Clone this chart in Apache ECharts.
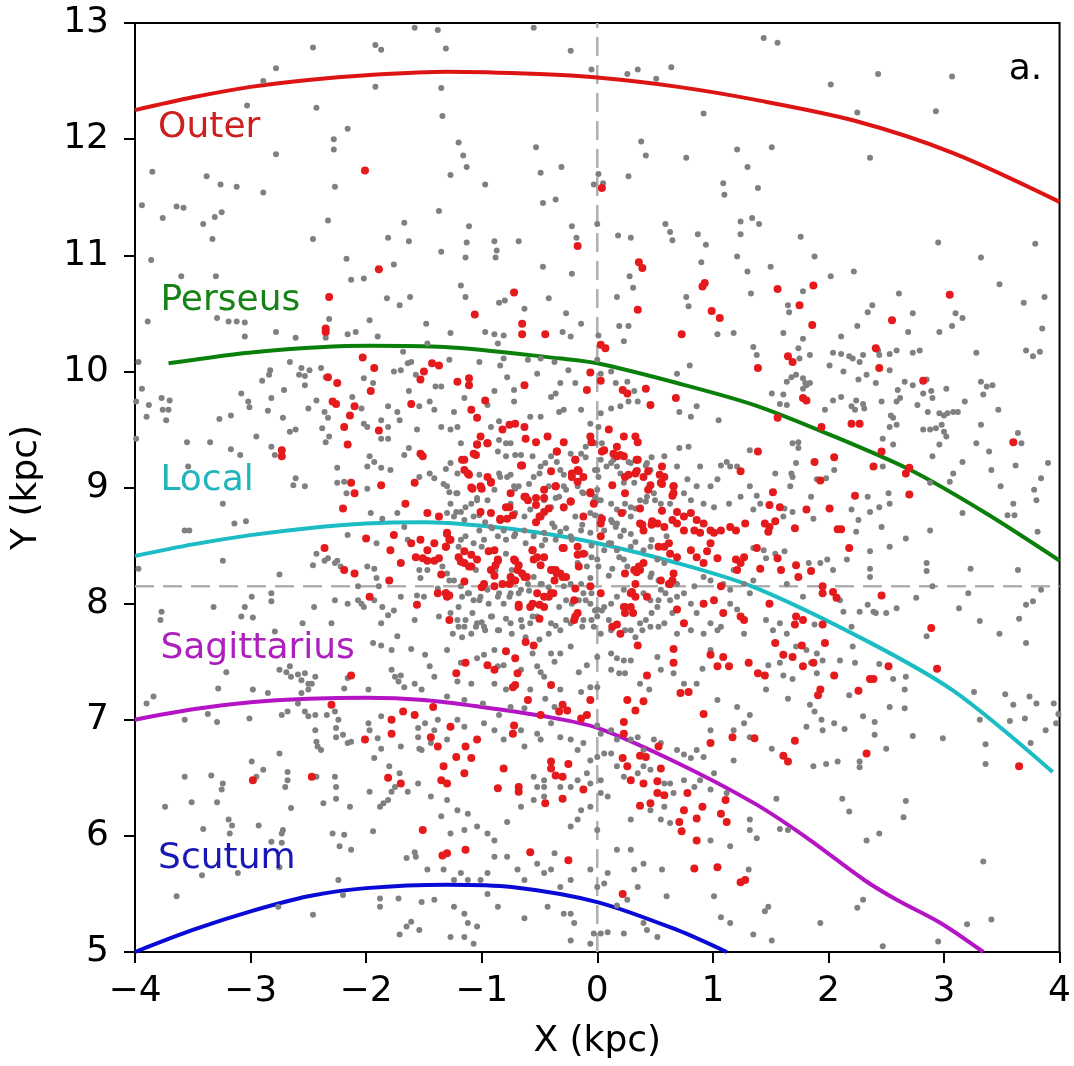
<!DOCTYPE html>
<html>
<head>
<meta charset="utf-8">
<script src="https://cdn.jsdelivr.net/npm/echarts@6/dist/echarts.min.js"></script>
<style>
  html, body { margin: 0; padding: 0; background: #fff; }
  #main { width: 1074px; height: 1066px; }
</style>
</head>
<body>
<div id="main"></div>
<script>
// spiral arm traces (kpc)
const outerArm = [[-4,12.25],[-3.5,12.36],[-3,12.45],[-2.5,12.51],[-2,12.55],[-1.3,12.58],[-0.5,12.56],[0,12.53],[0.7,12.45],[1.36,12.34],[2.22,12.16],[3.08,11.88],[4.0,11.46]]
const perseusArm = [[-3.71,10.07],[-2.93,10.17],[-1.98,10.22],[-1.32,10.21],[-0.31,10.11],[0,10.07],[0.69,9.90],[1.36,9.71],[2.0,9.46],[2.71,9.15],[3.36,8.78],[4.0,8.37]]
const localArm = [[-4,8.41],[-3.5,8.51],[-3,8.59],[-2.5,8.65],[-2,8.69],[-1.5,8.70],[-1,8.67],[-0.5,8.61],[0,8.52],[0.69,8.35],[1.36,8.14],[2.31,7.69],[3.08,7.25],[3.94,6.55]]
const sagittariusArm = [[-4,7.0],[-3.5,7.09],[-3,7.15],[-2.5,7.18],[-2,7.19],[-1.5,7.17],[-1,7.11],[-0.46,7.03],[0,6.93],[0.69,6.63],[1.36,6.28],[1.79,6.0],[2.31,5.62],[2.59,5.45],[2.97,5.25],[3.34,5.0]]
const scutumArm = [[-4,5.0],[-3.5,5.19],[-3,5.35],[-2.5,5.48],[-2,5.55],[-1.3,5.58],[-0.74,5.56],[0,5.43],[0.69,5.19],[1.12,5.0]]

const armNames = ['Outer', 'Perseus', 'Local', 'Sagittarius', 'Scutum']
const armLines = [outerArm, perseusArm, localArm, sagittariusArm, scutumArm]
const armColors = ['#dd1414', '#0a800a', '#1cbcc4', '#b414c4', '#0a0ad6']
const labelColors = ['#cc2020', '#178317', '#22b4bc', '#ac20bc', '#1818b4']
const labelX = [-3.80, -3.78, -3.78, -3.78, -3.80]
const labelY = [12.10, 10.61, 9.06, 7.61, 5.80]

const sunX = 0
const sunY = 8.15

const xTicks = [-4, -3, -2, -1, 0, 1, 2, 3, 4]
const yTicks = [5, 6, 7, 8, 9, 10, 11, 12, 13]

const grayPoints = [
[-2.46,12.79],[-1.92,12.81],[-1.87,12.77],[-2.78,12.61],[-2.89,12.50],[-1.92,12.45],[-1.35,12.44],[-3.03,12.29],[-2.43,12.27],[-1.34,12.20],[-2.16,12.09],[-2.28,12.00],[-2.28,11.91],[-2.78,11.87],[-3.85,11.72],[-3.38,11.68],[-3.26,11.61],[-3.12,11.59],[-2.89,11.54],[-2.27,11.59],[-3.94,11.43],[-3.64,11.42],[-3.58,11.41],[-3.76,11.32],[-3.25,11.37],[-3.31,11.33],[-3.41,11.27],[-2.33,11.30],[-1.67,11.28],[-1.37,11.38],[-3.33,11.14],[-2.46,11.14],[-1.81,11.15],[-1.63,11.12],[-1.35,11.03],[-3.86,10.96],[-2.17,10.97],[-1.76,10.92],[-3.60,10.82],[-3.30,10.82],[-2.13,10.79],[-2.02,10.80],[-1.82,10.63],[-1.71,10.57],[-1.62,10.64],[-3.89,10.43],[-3.29,10.46],[-3.19,10.43],[-3.12,10.43],[-3.05,10.42],[-2.32,10.45],[-1.97,10.44],[-1.48,10.41],[-1.58,12.96],[-1.38,12.94],
[-0.55,12.96],[-1.31,12.78],[-0.23,12.76],[-0.05,12.60],[0.26,12.56],[0.35,12.60],[0.51,12.52],[0.64,12.62],[0.92,12.22],[-1.20,11.97],[-1.16,11.86],[-1.13,11.76],[-1.27,11.69],[-0.53,11.93],[0.38,11.98],[0.42,11.86],[0.77,11.84],[1.21,11.91],[1.30,11.76],[-0.49,11.71],[-0.31,11.76],[-0.97,11.61],[0.01,11.70],[-0.03,11.61],[0.05,11.62],[0.27,11.68],[1.09,11.62],[1.10,11.52],[-0.47,11.45],[-0.36,11.48],[-1.11,11.25],[-1.13,11.11],[-0.89,11.12],[-0.87,11.04],[-0.88,10.98],[-1.14,10.98],[-0.68,11.12],[-0.22,11.25],[-0.18,11.15],[0.00,11.27],[0.18,11.17],[0.29,11.15],[0.59,11.27],[0.63,11.20],[0.65,11.13],[0.87,11.18],[0.94,11.09],[1.24,11.29],[1.24,11.18],[1.34,11.32],[1.21,10.99],[1.30,10.86],[1.33,10.67],[0.90,10.94],[-0.47,10.90],[-0.22,10.84],[0.28,10.82],[0.31,10.72],[0.17,10.64],[-1.18,10.74],[-1.14,10.64],[-0.85,10.59],[-0.80,10.61],[-0.63,10.54],[-0.42,10.63],[-0.27,10.50],[-0.14,10.41],[0.19,10.39],[0.27,10.39],[0.77,10.64],[0.79,10.56],
[1.44,12.87],[1.56,12.83],[2.02,12.47],[2.43,12.56],[3.07,12.54],[2.25,12.23],[2.93,12.24],[1.51,11.93],[2.36,11.84],[1.39,11.58],[1.40,11.27],[1.76,11.16],[1.88,10.99],[2.95,11.11],[3.79,11.10],[1.50,10.90],[2.02,10.82],[2.22,10.86],[3.32,10.98],[3.48,10.75],[1.78,10.69],[1.65,10.57],[1.66,10.51],[2.61,10.67],[2.38,10.57],[2.34,10.51],[2.73,10.50],[3.10,10.50],[3.16,10.46],[3.69,10.59],[3.87,10.64],[2.25,10.39],[3.07,10.39],[3.85,10.37],
[-3.05,10.30],[-2.78,10.34],[-2.61,10.29],[-2.35,10.29],[-2.16,10.32],[-2.09,10.34],[-1.90,10.30],[-1.47,10.24],[-3.97,10.08],[-3.94,9.85],[-3.99,9.74],[-3.88,9.71],[-3.90,9.61],[-3.77,9.77],[-3.70,9.75],[-3.76,9.67],[-3.71,9.67],[-3.73,9.58],[-3.99,9.42],[-3.55,9.39],[-3.35,9.39],[-3.17,9.33],[-3.09,9.28],[-2.95,9.44],[-3.27,9.59],[-3.17,9.62],[-3.08,9.81],[-3.02,9.74],[-3.01,9.69],[-2.90,9.92],[-2.83,10.01],[-2.84,9.97],[-2.82,9.77],[-2.85,9.66],[-2.66,10.08],[-2.71,9.84],[-2.72,9.60],[-2.66,9.48],[-2.61,9.50],[-2.82,9.35],[-2.79,9.28],[-2.56,10.03],[-2.58,9.97],[-2.53,9.96],[-2.49,10.01],[-2.53,9.88],[-2.50,9.68],[-2.43,9.75],[-2.39,10.03],[-2.35,9.95],[-2.36,9.65],[-2.33,9.60],[-2.38,9.51],[-2.32,9.44],[-2.35,9.39],[-2.25,9.17],[-2.19,9.05],[-2.25,9.04],[-2.17,8.95],[-1.99,8.99],[-1.93,9.22],[-1.87,9.17],[-1.79,9.15],[-1.99,9.18],[-1.97,9.27],[-2.12,9.78],[-2.02,9.94],[-1.94,9.90],[-2.04,9.68],[-2.02,9.55],[-1.99,9.52],[-1.87,9.58],[-1.81,9.52],[-1.73,9.65],[-1.71,9.58],[-1.81,9.70],[-1.68,10.17],[-1.76,10.00],[-1.70,10.01],[-1.64,10.07],[-1.61,10.08],[-1.57,9.97],[-1.54,9.70],[-1.63,9.83],[-1.56,9.50],[-1.67,9.28],[-1.63,9.34],[-1.87,9.42],[-1.81,9.42],[-1.54,9.09],[-1.45,9.12],[-1.41,9.08],[-1.35,9.87],[-1.40,9.87],[-1.45,9.74],[-1.41,9.67],[-1.35,9.52],[-2.61,9.08],[-2.63,9.02],[-2.53,9.01],[-3.14,8.69],[-3.04,8.71],[-3.54,9.18],[-3.24,8.86],[-3.57,8.63],[-3.53,8.63],[-1.96,8.78],[-1.73,8.78],[-1.67,8.66],[-1.64,8.55],[-1.86,8.73],[-2.16,8.59],[-1.91,8.52],[-1.54,8.29],[-1.47,8.29],[-1.53,8.22],[-1.56,8.07],[-1.50,8.06],[-3.24,8.37],[-3.97,8.30],[-2.75,8.25],[-2.43,8.43],[-2.36,8.37],[-2.33,8.39],[-2.27,8.35],[-2.25,8.37],[-2.22,8.32],[-2.46,8.33],[-1.99,8.32],[-1.93,8.30],[-1.91,8.22],[-2.07,8.15],[-1.89,8.15],[-2.27,8.03],[-2.16,8.00],[-2.07,8.03],[-2.02,7.97],[-2.04,8.00],[-1.93,8.03],[-1.86,7.97],[-1.81,7.90],[-1.76,7.94],[-1.87,7.83],[-1.70,8.06],[-2.99,8.06],[-2.82,8.09],[-2.82,8.02],[-3.05,7.97],[-3.32,7.97],[-3.77,7.93],[-3.78,7.86],[-3.08,7.89],[-2.98,7.88],[-2.55,7.83],[-2.30,7.83],[-2.45,7.97],[-2.79,7.76],[-1.73,7.72],[-1.37,7.89],[-1.38,8.13],[-1.58,7.86],
[-1.27,10.33],[-0.97,10.34],[-0.89,10.32],[-0.81,10.31],[-0.30,10.34],[-0.23,10.30],[0.01,10.31],[0.23,10.26],[1.04,10.32],[1.18,10.33],[-1.28,10.10],[-1.02,10.08],[-0.86,10.24],[-0.81,10.11],[-0.84,10.05],[-0.78,9.95],[-0.72,9.84],[-0.60,10.10],[-0.49,10.11],[-0.37,10.08],[-0.25,10.01],[-0.32,9.90],[-0.36,9.81],[-0.40,9.78],[-0.52,9.98],[-0.19,9.90],[0.00,10.10],[0.03,9.98],[0.12,10.00],[0.16,9.90],[0.26,9.91],[0.32,9.83],[0.35,9.74],[0.27,9.74],[0.20,9.70],[0.12,9.68],[0.03,9.64],[-0.14,9.67],[-0.29,9.67],[-0.33,9.65],[-0.49,9.61],[-0.58,9.61],[-0.72,9.74],[-0.89,9.83],[-0.95,9.71],[-1.15,9.77],[-1.24,9.65],[-1.21,9.52],[-1.27,9.50],[-0.92,9.52],[-0.85,9.57],[0.71,9.65],[0.81,9.61],[0.86,9.70],[1.05,9.58],[0.80,10.05],[0.69,9.98],
[-0.06,9.55],[0.01,9.52],[0.04,9.38],[-0.02,9.38],[-0.10,9.35],[0.03,9.24],[0.12,9.21],[0.17,9.18],[0.29,9.21],[0.35,9.15],[0.43,9.21],[0.46,9.15],[0.58,9.27],[0.69,9.18],[0.71,9.34],[0.79,9.35],[0.89,9.18],[1.07,9.19],[1.12,9.22],[1.15,9.18],[1.21,9.18],[1.32,9.32],[1.04,9.07],[0.98,9.01],[0.86,9.01],[0.78,9.07],[0.75,8.95],[0.81,8.89],[0.92,8.86],[1.01,8.83],[1.14,8.86],[1.24,8.92],[1.32,9.01],[-1.27,9.21],[-1.21,9.12],[-1.30,9.01],[-1.21,8.95],[-1.27,8.86],[-1.18,8.79],[-1.09,8.86],[-1.04,8.89],[-0.89,8.98],[-0.84,9.09],[-0.78,9.09],[-0.72,9.01],[-0.68,9.01],[-0.55,9.09],[-0.49,9.18],[-0.56,9.27],[-0.71,9.28],[-0.79,9.27],[-0.85,9.41],[-0.75,9.38],[-0.40,9.27],[-0.35,9.22],[-0.32,9.15],[-0.23,9.29],[-0.14,9.29],
[0.00,9.15],[0.01,9.09],[0.00,8.98],[-0.02,8.92],[0.03,8.89],[0.12,8.86],[0.17,8.81],[0.23,8.79],[0.29,8.83],[0.37,8.89],[0.43,8.92],[0.49,8.95],[0.55,8.86],[0.63,8.86],[0.32,9.04],[0.23,9.04],[-0.17,9.01],[-0.12,8.95],[-0.29,9.01],[-0.33,8.92],[-0.40,8.83],[-0.46,8.89],[-0.58,8.81],[-0.63,8.75],[-0.75,8.86],[-0.95,8.89],[-1.07,8.75],[-1.15,8.72],[-1.24,8.75],[-1.30,8.78],[-0.06,8.78],[0.03,8.75],[0.12,8.72],[0.17,8.69],[0.23,8.63],[0.29,8.75],[0.06,8.63],[-0.06,8.61],[-0.14,8.63],[-0.23,8.58],[-0.32,8.62],[-0.37,8.66],[-0.46,8.61],[-0.55,8.58],[-0.63,8.63],[-0.72,8.58],[-0.81,8.63],[-0.86,8.58],[-0.98,8.55],[-1.07,8.52],[-1.18,8.55],[-0.92,8.66],
[-0.17,8.35],[-0.09,8.32],[0.00,8.38],[0.06,8.46],[0.12,8.52],[0.17,8.46],[0.23,8.38],[0.29,8.49],[0.46,8.49],[0.52,8.38],[0.58,8.35],[0.46,8.23],[0.55,8.12],[0.69,8.17],[0.75,8.09],[0.84,8.15],[0.92,8.23],[0.98,8.20],[1.09,8.17],[1.15,8.12],[1.18,8.29],[1.27,8.17],[1.32,8.09],[-1.30,8.26],[-1.24,8.20],[-1.18,8.15],[-1.12,8.09],[-1.07,8.03],[-1.01,8.06],[-0.95,8.12],[-0.86,8.06],[-0.81,8.00],[-0.75,8.09],[-0.66,8.12],[-0.60,8.17],[-0.55,8.23],[-0.49,8.17],[-0.29,8.15],[-0.23,8.17],[-0.14,8.17],[-0.12,8.09],[-0.06,8.00],[0.00,7.95],[0.06,7.97],[0.12,8.00],[0.17,8.06],[0.23,8.12],[0.40,8.09],[0.46,8.03],[0.52,7.97],[0.63,8.03],[0.69,8.06],[0.81,8.00],[0.86,7.92],[0.98,7.83],[1.07,7.80],[1.15,8.00],[1.21,7.95],
[-1.27,7.92],[-1.21,7.86],[-1.15,7.80],[-1.09,7.74],[-1.04,7.83],[-0.98,7.80],[-0.92,7.89],[-0.86,7.77],[-0.75,7.83],[-0.66,7.86],[-0.58,7.83],[-0.52,7.89],[-0.40,7.83],[-0.32,7.77],[-0.23,7.83],[-0.12,7.86],[-0.03,7.80],[0.00,7.89],[0.03,7.74],[0.12,7.77],[0.29,7.77],[0.37,7.83],[0.46,7.80],[0.58,7.83],[0.69,7.74],[0.81,7.77],[0.92,7.74],[1.04,7.77],[1.27,7.74],
[-1.18,9.38],[-0.86,9.31],[-0.79,9.38],[-0.66,9.28],[-0.45,9.21],[-1.31,9.16],[-1.33,9.03],[-1.22,8.95],[-1.28,8.96],[-1.14,8.83],[-1.22,8.79],[-1.04,8.91],[-1.02,9.11],[-0.85,9.12],[-0.75,9.11],[-0.71,8.99],[-0.59,9.03],[-0.50,9.12],[-0.42,9.01],[-0.29,9.11],[-0.27,8.98],[-0.36,8.91],[-0.29,8.82],[-0.13,8.96],[-0.03,8.88],[0.01,8.89],[-0.02,8.76],[-0.13,8.68],[-0.10,9.26],[-0.02,9.15],[0.08,9.18],[0.14,9.24],[0.20,9.12],[0.27,9.22],[0.42,9.19],[0.47,9.26],[0.42,8.88],[0.50,8.89],[0.33,8.82],[0.24,8.86],[0.13,8.70],[0.16,8.66],[0.20,8.58],[0.10,8.52],[0.29,8.60],[0.33,8.53],[0.60,8.58],[0.47,8.55],[0.40,8.46],[0.19,8.40],[0.26,8.32],[0.13,8.30],[0.10,8.24],[-0.05,8.40],[-0.10,8.43],[0.01,8.32],[-0.06,8.22],[-0.05,8.09],[-0.10,8.03],[-0.16,8.03],[-0.22,8.00],[-0.02,7.94],[0.04,7.94],[0.10,7.86],[-0.05,7.86],[-0.13,7.80],[-0.27,7.86],[-0.36,7.81],[0.47,8.26],[0.53,8.20],[0.59,8.09],[0.53,8.03],[0.47,7.92],[0.42,7.86],[0.53,7.80],[0.65,7.92],[0.39,7.77],[0.24,7.77],[0.33,7.71],
[-0.79,8.55],[-0.71,8.60],[-1.02,8.63],[-1.14,8.58],[-1.20,8.49],[-1.34,8.32],[-1.28,8.20],[-1.11,8.09],[-1.17,8.06],[-1.20,7.97],[-1.02,8.03],[-0.94,8.00],[-0.85,8.09],[-0.76,8.06],[-0.68,8.09],[-0.59,8.11],[-0.48,8.17],[-0.42,8.14],[-1.08,7.92],[-1.14,7.86],[-1.00,7.84],[-0.91,7.89],[-0.79,7.87],[-1.05,7.80],[-0.97,7.77],[-0.85,7.77],[-0.74,7.74],[-0.65,7.80],[-0.56,7.89],[-1.20,7.80],[-1.25,7.74],[-1.17,7.71],[-0.50,7.69],[-0.42,7.74],[-0.62,7.71],[-0.33,7.97],[-0.27,8.03],[-1.02,8.76],[-0.97,8.70],[-0.91,8.65],[-0.39,8.69],[-0.27,8.65],[-0.45,8.55],[-0.62,8.52],[-0.79,8.43],[-1.00,8.49],[-1.05,8.29],[-0.88,8.29],[-0.74,8.29],[-0.48,8.50],[-0.36,8.55],[-0.22,8.55],[-0.05,8.50],[-0.19,8.75],[-0.71,8.78],
[1.61,10.33],[1.78,10.28],[2.11,10.30],[2.69,10.34],[2.96,10.34],[1.35,10.21],[1.38,10.14],[1.74,10.20],[1.84,10.14],[1.75,10.11],[2.01,10.05],[2.04,10.16],[2.11,10.15],[2.18,10.13],[2.21,10.11],[2.30,10.14],[2.27,10.08],[2.43,10.18],[2.44,10.14],[2.53,10.15],[2.59,10.18],[2.73,10.16],[2.79,10.18],[3.28,10.16],[3.71,10.18],[3.77,10.13],[3.83,10.17],[1.64,9.91],[1.68,9.95],[1.72,9.97],[1.78,9.94],[1.80,9.90],[1.81,9.88],[1.84,9.90],[1.78,9.85],[2.13,10.00],[2.26,9.93],[2.33,9.97],[2.41,9.90],[2.53,10.01],[2.60,9.84],[2.66,9.91],[2.73,9.88],[2.82,9.81],[2.85,9.93],[2.89,9.83],[3.02,9.85],[3.32,9.91],[3.37,9.87],[3.42,9.88],[3.34,9.80],[1.51,9.81],[1.61,9.80],[1.64,9.71],[1.58,9.72],[1.97,9.67],[2.04,9.75],[2.11,9.78],[2.20,9.70],[2.23,9.67],[2.24,9.75],[2.30,9.72],[2.31,9.68],[2.46,9.74],[2.54,9.62],[2.56,9.60],[2.62,9.77],[2.59,9.74],[2.77,9.71],[2.86,9.65],[2.90,9.77],[2.96,9.64],[3.00,9.62],[3.03,9.64],[3.08,9.65],[3.12,9.65],[3.18,9.74],[3.47,9.67],
[2.53,9.52],[2.59,9.54],[2.82,9.50],[2.88,9.50],[2.93,9.51],[2.98,9.54],[3.00,9.48],[3.02,9.44],[2.47,9.42],[2.56,9.37],[2.96,9.37],[2.90,9.27],[3.32,9.54],[3.28,9.38],[3.39,9.31],[3.64,9.47],[3.67,9.38],[1.69,9.38],[1.74,9.39],[1.74,9.34],[1.72,9.21],[1.54,9.12],[1.68,9.12],[1.69,9.09],[1.67,9.01],[1.98,9.08],[1.90,9.07],[2.05,9.15],[2.47,9.18],[3.16,9.22],[3.08,9.12],[3.05,9.05],[2.88,9.04],[3.41,9.15],[3.62,9.19],[3.90,9.21],[3.84,9.08],[3.49,9.01],[3.78,8.98],[3.80,8.89],[3.60,8.86],[3.61,8.76],[3.55,8.76],[1.38,8.93],[1.41,8.86],[1.35,8.81],[1.61,8.75],[1.62,8.82],[1.69,8.79],[1.85,8.92],[1.87,8.73],[2.20,8.81],[2.26,8.72],[2.34,8.92],[2.36,8.79],[2.44,8.83],[2.52,8.95],[2.53,8.86],[2.46,8.66],[2.24,8.62],[2.67,8.56],[2.88,8.63],[3.16,8.78],[3.81,8.62],
[1.35,8.48],[1.44,8.46],[1.54,8.43],[1.62,8.45],[1.46,8.39],[1.93,8.35],[1.83,8.35],[1.99,8.38],[2.04,8.29],[2.16,8.38],[2.36,8.45],[2.53,8.49],[2.36,8.30],[2.36,8.23],[2.85,8.35],[2.85,8.28],[3.23,8.30],[3.64,8.29],[1.35,8.20],[1.64,8.17],[1.78,8.06],[2.10,8.03],[2.13,7.93],[2.27,7.93],[2.34,7.99],[2.39,7.93],[2.41,7.92],[2.50,7.92],[2.59,7.96],[2.76,8.05],[2.90,8.15],[3.21,8.09],[3.13,7.96],[3.31,7.85],[3.48,7.74],[3.71,7.99],[3.77,8.02],[3.65,7.87],[3.84,8.12],[1.46,7.86],[1.52,7.77],[1.58,7.83],[1.64,7.74],[1.88,7.82],[2.20,7.80],[2.85,7.72],
[-3.90,7.14],[-3.84,7.20],[-3.57,7.00],[-3.37,7.05],[-3.29,6.98],[-3.28,7.27],[-3.21,7.41],[-3.01,7.01],[-2.98,7.26],[-2.85,7.23],[-2.75,7.43],[-2.69,7.41],[-2.66,7.46],[-2.65,7.37],[-2.73,7.04],[-2.68,7.07],[-2.59,7.39],[-2.56,7.34],[-2.53,7.40],[-2.50,7.31],[-2.44,7.37],[-2.47,7.31],[-2.50,7.26],[-2.56,7.23],[-2.59,7.14],[-2.53,7.07],[-2.50,7.03],[-2.44,7.04],[-2.34,7.04],[-2.27,7.07],[-2.24,7.00],[-2.26,6.93],[-2.20,6.87],[-2.26,6.85],[-2.16,6.80],[-2.13,6.81],[-2.44,6.91],[-2.43,6.81],[-2.42,6.77],[-2.39,6.74],[-2.19,7.27],[-2.16,7.36],[-1.98,7.26],[-1.94,7.66],[-1.87,7.64],[-1.78,7.60],[-1.61,7.61],[-1.49,7.56],[-1.45,7.46],[-1.41,7.37],[-1.78,7.43],[-1.75,7.37],[-1.72,7.33],[-1.70,7.38],[-1.67,7.28],[-1.58,7.31],[-1.52,7.26],[-1.49,6.97],[-1.55,6.93],[-1.55,6.85],[-1.52,6.74],[-1.44,6.80],[-1.41,6.91],[-1.38,7.00],[-1.87,7.03],[-1.98,6.97],[-1.97,6.91],[-1.90,6.84],[-1.87,6.75],[-1.93,6.67],[-1.70,6.77],[-1.54,6.75],
[-2.75,6.71],[-2.99,6.64],[-2.89,6.57],[-2.95,6.51],[-2.68,6.55],[-2.68,6.48],[-2.70,6.42],[-2.43,6.51],[-2.27,6.51],[-2.26,6.42],[-2.37,6.28],[-2.26,6.32],[-2.14,6.25],[-1.97,6.38],[-1.88,6.25],[-1.85,6.28],[-1.81,6.31],[-1.78,6.38],[-1.75,6.42],[-1.71,6.54],[-1.64,6.38],[-1.55,6.45],[-1.80,6.60],[-3.57,6.51],[-3.34,6.52],[-3.24,6.45],[-3.25,6.40],[-3.74,6.25],[-3.51,6.29],[-3.29,6.29],[-3.19,6.14],[-3.16,6.09],[-3.41,6.06],[-3.18,6.02],[-2.93,6.09],[-2.72,6.05],[-2.73,6.02],[-2.65,6.24],[-2.82,5.95],[-2.73,5.94],[-2.29,6.02],[-2.19,6.01],[-2.23,5.91],[-2.13,5.88],[-1.94,6.04],[-1.65,5.81],[-1.58,5.86],[-1.57,5.82],[-1.47,5.71],[-1.35,6.17],[-3.42,5.66],[-2.75,5.73],[-3.64,5.48],[-3.11,5.68],[-2.76,5.39],[-2.46,5.32],[-2.24,5.62],[-2.20,5.49],[-1.88,5.46],[-1.88,5.39],[-1.72,5.46],[-1.65,5.22],[-1.61,5.26],[-1.54,5.19],[-1.71,5.15],[-1.52,5.43],[-1.41,5.45],[-1.44,6.34],
[-1.30,7.60],[-1.18,7.49],[-1.04,7.53],[-0.98,7.56],[-0.89,7.60],[-0.86,7.46],[-0.81,7.47],[-0.66,7.43],[-0.56,7.57],[-0.52,7.46],[-0.49,7.41],[-0.46,7.37],[-0.40,7.57],[-0.37,7.50],[-0.32,7.57],[-0.23,7.63],[-0.16,7.41],[-0.09,7.47],[0.00,7.54],[0.12,7.57],[0.17,7.53],[0.23,7.51],[0.19,7.40],[0.24,7.40],[0.12,7.43],[0.29,7.51],[0.37,7.31],[0.45,7.26],[0.52,7.54],[0.55,7.43],[0.66,7.40],[0.75,7.31],[0.86,7.31],[0.98,7.60],[0.91,7.44],[1.04,7.17],[1.21,7.11],[1.27,6.97],[1.32,6.85],[1.18,6.91],[1.32,7.04],[-0.14,7.24],[-0.06,7.28],[0.00,7.28],[-0.32,7.26],[-0.58,7.26],[-0.79,7.26],[-0.89,7.31],[-1.09,7.31],[-1.21,7.33],[-1.30,7.20],[-1.15,7.17],[-0.99,7.14],[-0.85,7.04],[-0.75,7.11],[-0.63,7.10],[-0.45,7.18],[-0.37,7.11],
[0.00,6.95],[0.03,6.88],[0.12,6.91],[0.17,6.83],[0.29,6.83],[0.35,6.85],[0.40,6.74],[0.49,6.83],[0.55,6.80],[0.69,6.74],[0.75,6.70],[0.81,6.67],[0.86,6.74],[0.92,6.68],[0.98,6.91],[1.01,6.54],[1.18,6.65],[-1.30,6.83],[-1.21,7.00],[-1.15,6.94],[-0.98,6.97],[-0.89,6.91],[-0.81,6.83],[-0.66,6.91],[-0.63,6.77],[-0.52,6.88],[-0.49,6.83],[-0.40,6.97],[-0.32,6.85],[-0.23,6.83],[-0.17,6.74],[-0.12,6.80],[-0.06,6.65],[0.00,6.68],[0.06,6.71],[0.12,6.71],[0.17,6.60],[0.23,6.51],[0.35,6.54],[0.40,6.60],[0.46,6.57],[0.58,6.45],[0.63,6.45],[0.66,6.37],[0.75,6.48],[0.84,6.42],[0.89,6.48],[0.98,6.40],
[-1.30,6.31],[-1.21,6.22],[-1.12,6.19],[-1.27,6.02],[-1.15,6.05],[-1.04,6.08],[-0.95,6.02],[-0.89,5.96],[-0.78,6.12],[-0.66,6.25],[-0.55,6.31],[-0.46,6.34],[-0.55,6.51],[-0.52,6.42],[-0.46,6.48],[-0.46,6.42],[-0.32,6.42],[-0.23,6.42],[-0.17,6.48],[-0.09,6.54],[-0.06,6.45],[0.03,6.48],[0.03,6.37],[0.09,6.34],[-0.06,6.25],[-0.14,6.22],[-0.17,6.14],[-0.23,6.08],[0.00,6.05],[0.29,6.14],[0.46,6.22],[0.55,6.14],[0.63,6.11],[0.58,6.25],[0.98,5.96],[1.15,5.91],[1.32,6.14],[1.32,6.05],[1.12,6.37],
[-1.33,5.71],[-1.24,5.62],[-1.18,5.68],[-1.12,5.62],[-1.01,5.62],[-0.95,5.68],[-0.89,5.82],[-0.78,5.82],[-0.69,5.71],[-0.63,5.62],[-0.52,5.76],[-0.46,5.68],[-0.40,5.71],[-0.37,5.85],[-0.32,5.56],[-0.23,5.62],[-0.06,5.71],[0.00,5.56],[0.06,5.59],[0.09,5.68],[0.17,5.88],[0.29,5.88],[0.32,5.71],[0.35,5.56],[0.40,5.76],[0.56,5.71],[0.60,5.48],[1.01,5.48],[1.07,5.30],[1.15,5.25],[1.31,5.71],[-1.24,5.39],[-1.15,5.33],[-1.12,5.25],[-1.04,5.22],[-0.95,5.50],[-0.86,5.39],[-0.63,5.29],[-0.43,5.39],[-0.29,5.33],[-0.23,5.33],[-0.20,5.25],[-0.03,5.16],[0.03,5.16],[0.09,5.17],[0.17,5.40],[0.26,5.45],[0.40,5.25],[0.43,5.19],[0.52,5.13],[-1.27,5.13],[-1.15,5.13],[-1.07,5.07],[-0.23,5.10],[-0.06,5.07],[0.23,5.16],
[1.72,7.63],[1.81,7.60],[1.90,7.57],[1.95,7.51],[1.85,7.49],[1.90,7.40],[1.48,7.47],[1.58,7.49],[1.61,7.38],[1.69,7.35],[2.10,7.51],[2.21,7.63],[2.23,7.49],[2.44,7.48],[2.56,7.35],[2.67,7.37],[2.66,7.26],[2.53,7.11],[2.66,7.10],[1.46,7.26],[1.65,7.18],[1.84,7.13],[1.88,7.07],[1.94,7.00],[1.81,6.94],[1.95,6.91],[2.05,6.97],[2.14,6.92],[2.18,7.21],[2.30,7.03],[2.40,6.98],[2.40,6.87],[2.50,6.75],[2.73,6.86],[2.99,6.84],[1.51,6.75],[1.87,6.60],[1.98,6.62],[2.08,6.64],[2.27,6.64],[2.27,6.59],[3.26,7.24],[3.31,7.00],[3.53,7.22],[3.60,7.13],[3.74,7.20],[3.80,7.14],[3.95,7.14],[3.99,7.05],[3.97,6.97],[3.70,7.01],[3.57,6.99],[3.88,6.91],[3.36,6.79],[3.36,6.62],[3.75,6.80],[3.71,7.66],[1.55,6.32],[2.12,6.32],[2.18,6.21],[2.67,6.30],[2.65,6.16],[1.58,6.06],[1.65,6.05],[1.38,5.98],[2.33,5.96],[2.44,6.02],[3.34,5.78],[2.30,5.45],[2.25,5.38],[1.45,5.35],[1.48,5.39],[1.93,5.25],[1.51,5.10],[2.47,5.05],[2.95,5.09],[3.20,5.24],[3.41,5.28],[1.35,5.15]
]

const redPoints = [
[-2.01,11.73],[-1.89,10.88],[-2.32,10.64],[-2.35,10.37],
[0.04,11.58],[-0.17,11.08],[0.36,10.94],[0.39,10.89],[0.93,10.76],[0.91,10.73],[-0.72,10.68],[-1.06,10.49],[-0.65,10.41],[0.35,10.53],[0.99,10.52],[1.06,10.46],
[1.56,10.71],[1.87,10.74],[1.75,10.57],[1.86,10.40],[3.05,10.66],[2.55,10.44],
[-2.35,10.34],[-2.03,10.12],[-1.93,10.03],[-2.33,9.95],[-2.25,9.90],[-1.96,9.83],[-2.29,9.74],[-2.26,9.72],[-2.10,9.70],[-2.14,9.62],[-2.19,9.52],[-2.16,9.37],[-1.89,9.49],[-1.61,9.72],[-1.53,9.93],[-1.50,10.00],[-1.43,10.07],[-1.37,10.05],[-1.53,9.29],[-1.51,9.27],[-2.73,9.32],[-2.73,9.27],[-2.13,9.04],[-2.10,8.95],[-1.87,9.02],[-1.58,9.04],[-2.20,8.82],[-1.66,8.86],[-1.47,8.78],[-1.37,8.75],[-2.00,8.56],[-1.76,8.59],[-1.79,8.46],[-1.61,8.52],[-1.53,8.55],[-1.47,8.46],[-1.41,8.52],[-2.36,8.48],[-1.70,8.35],[-1.57,8.40],[-1.51,8.39],[-1.47,8.37],[-1.41,8.37],[-1.37,8.39],[-2.19,8.29],[-2.10,8.26],[-1.80,8.20],[-1.35,8.25],[-1.97,8.06],[-1.56,7.99],[-1.38,8.09],
[-0.65,10.32],[-0.45,10.32],[0.03,10.23],[0.07,10.20],[0.73,10.32],[-1.21,9.91],[-1.11,9.94],[-1.11,9.88],[-0.63,9.88],[-0.97,9.75],[-0.06,9.99],[0.03,9.92],[-0.09,9.84],[0.22,9.84],[0.26,9.81],[0.42,9.85],[0.68,9.77],[0.46,9.71],[-1.09,9.67],[-1.04,9.60],[-0.76,9.54],[-0.71,9.55],[-0.63,9.52],[-1.01,9.44],[-1.04,9.37],[-1.07,9.29],[-0.95,9.38],[-0.62,9.42],[-0.53,9.39],[-0.43,9.44],[-0.82,9.50],[-0.06,9.44],[0.10,9.50],[0.23,9.44],[0.33,9.44],[0.35,9.39],[0.17,9.35],[-0.29,9.39],[-0.35,9.31],[0.06,9.32],[0.14,9.29],[0.17,9.27],[0.23,9.27],[0.35,9.24],[-0.19,9.24],[-0.17,9.15],[-0.22,9.09],[-0.12,9.09],[-0.65,9.19],[-1.17,9.24],[-1.15,9.15],[-1.11,9.11],[-0.95,9.09],[-1.01,9.01],[-1.09,9.00],[-0.92,9.04],[-0.40,9.14],[-0.46,8.98],[-0.36,9.01],
[0.27,9.11],[0.33,9.12],[0.40,9.09],[0.46,9.02],[0.56,9.18],[0.58,9.09],[0.55,9.04],[0.66,9.01],[0.66,8.95],[1.24,9.14],[0.13,9.02],[0.24,8.95],[-0.06,8.95],[-0.03,8.86],[-0.63,8.92],[-0.60,8.89],[-0.75,8.95],[-0.79,8.83],[-0.84,8.72],[-0.78,8.73],[-0.73,8.76],[-1.01,8.79],[-0.92,8.78],[-0.53,8.85],[-0.49,8.75],[-0.46,8.79],[-0.23,8.88],[-0.29,8.83],[0.37,8.69],[0.40,8.63],[0.475,8.71],[0.52,8.69],[0.58,8.66],[0.69,8.79],[0.75,8.75],[0.81,8.78],[0.86,8.72],[0.92,8.69],[0.98,8.63],[0.69,8.69],[0.75,8.63],[0.84,8.63],[0.89,8.61],[1.01,8.61],[1.07,8.63],[1.15,8.66],[1.20,8.63],[1.28,8.69],[0.03,8.69],[-0.12,8.75],
[-1.30,8.61],[-1.27,8.55],[-1.31,8.49],[-1.15,8.45],[-1.18,8.36],[-1.09,8.32],[-1.04,8.38],[-0.89,8.46],[-0.86,8.38],[-0.92,8.29],[-0.72,8.38],[-0.69,8.29],[-0.56,8.46],[-0.55,8.38],[-0.46,8.40],[-0.63,8.23],[-0.72,8.20],[-0.76,8.17],[-0.40,8.29],[-0.36,8.29],[-0.32,8.26],[-0.37,8.20],[-0.30,8.23],[-0.29,8.48],[-0.17,8.49],[-0.12,8.43],[0.58,8.49],[0.63,8.43],[0.69,8.40],[0.81,8.46],[0.86,8.40],[0.95,8.45],[0.98,8.52],[0.92,8.35],[1.04,8.39],[1.20,8.38],[1.24,8.35],[1.27,8.40],[1.21,8.29],[0.37,8.29],[0.40,8.35],[0.32,8.29],[0.33,8.17],[0.29,8.09],[0.33,8.06],[0.29,7.97],[0.23,7.97],[0.24,7.92],[0.55,8.20],[0.63,8.17],[0.66,8.26],[-1.31,8.09],[-1.30,8.06],[-0.98,8.17],[-0.89,8.15],[-0.52,8.09],[-0.46,8.06],[-0.40,8.09],[-0.58,7.97],[-0.46,7.97],[-0.20,8.03],[-0.17,7.92],[-0.20,7.86],[-0.06,8.15],[0.03,8.09],[-0.68,7.97],[0.17,7.82],[0.92,8.00],[1.01,8.03],[1.09,7.92],[1.24,7.89],[1.27,7.86],[1.07,8.15],[0.69,7.95],[0.75,7.83],
[-1.04,9.37],[-1.05,9.28],[-0.95,9.38],[-1.15,9.24],[-1.12,9.12],[-1.00,8.99],[-1.08,8.99],[-0.92,9.05],[-0.66,9.19],[-0.62,8.92],[-0.53,8.91],[-0.46,8.91],[-0.76,8.83],[-0.84,8.73],[-0.50,8.75],[-0.53,8.70],[-0.42,8.82],[-0.35,9.31],[-0.36,9.01],[-0.19,9.24],[-0.16,9.14],[-0.22,9.12],[-0.17,9.05],[-0.06,8.96],[-0.23,8.88],[-0.05,9.39],[0.04,9.31],[0.20,9.28],[0.34,9.24],[0.34,9.14],[0.24,9.09],[0.44,9.14],[0.44,8.98],[0.54,9.11],[0.56,9.03],[0.66,9.01],[0.65,8.93],[0.04,8.73],[0.03,8.58],[0.21,8.78],[0.37,8.82],[0.39,8.68],[0.47,8.68],[0.56,8.80],[0.65,8.72],[0.53,8.49],[0.62,8.52],
[-1.30,8.60],[-1.28,8.55],[-1.31,8.49],[-1.20,8.40],[-1.15,8.35],[-1.11,8.32],[-1.09,8.42],[-0.94,8.45],[-0.86,8.37],[-0.88,8.33],[-0.71,8.37],[-0.68,8.33],[-0.56,8.46],[-0.52,8.40],[-0.49,8.33],[-0.30,8.48],[-0.16,8.32],[-0.17,8.42],[-0.75,8.23],[-0.71,8.20],[-0.65,8.26],[-0.61,8.23],[-0.39,8.29],[-0.35,8.26],[-0.27,8.23],[-0.19,8.13],[-1.31,8.09],[-1.28,8.07],[-1.15,8.19],[-1.00,8.14],[-0.89,8.24],[-0.82,8.17],[-0.68,7.99],[-0.56,8.00],[-0.50,7.99],[-0.42,8.06],[-0.38,8.09],[-0.50,7.87],[-0.19,7.89],[-1.28,7.86],[0.24,8.26],[0.30,8.10],[0.36,8.32],[0.34,8.27],[0.24,7.97],[0.31,7.92],[0.65,8.20],[0.62,8.17],[0.43,8.06],[0.13,7.80],[0.20,7.74],
[1.39,10.03],[1.65,10.13],[1.69,10.08],[2.41,10.20],[2.44,10.03],[2.82,9.92],[1.78,9.77],[1.81,9.75],[1.56,9.60],[1.94,9.52],[2.20,9.55],[2.27,9.55],[3.60,9.39],[1.39,9.31],[1.88,9.22],[2.05,9.26],[1.93,9.06],[2.39,9.18],[2.67,9.12],[2.70,9.17],[2.46,9.31],[2.70,8.94],[1.52,8.96],[1.49,8.85],[1.58,8.83],[1.81,8.81],[2.01,8.82],[2.23,8.93],[1.45,8.69],[1.49,8.66],[1.48,8.62],[1.54,8.71],[1.71,8.65],[2.08,8.64],[2.11,8.64],[2.18,8.48],[1.38,8.48],[1.56,8.39],[1.41,8.30],[1.59,8.29],[1.72,8.33],[1.74,8.23],[1.85,8.28],[1.95,8.15],[1.95,8.09],[2.04,8.10],[2.07,8.05],[2.46,8.07],[1.49,8.00],[1.72,7.89],[1.71,7.82],[1.78,7.86],[1.95,7.82],[2.89,7.79],
[-2.13,7.38],[-2.30,7.13],[-1.78,7.00],[-1.68,7.07],[-1.58,7.04],[-2.01,6.83],[-1.78,6.88],[-1.42,7.11],[-1.44,6.85],[-1.38,6.77],[-1.35,6.48],[-2.98,6.48],[-2.47,6.51],[-1.81,6.50],[-1.70,6.45],[-1.51,6.05],[-1.34,5.83],
[-1.22,7.40],[-1.14,7.49],[-0.95,7.47],[-0.89,7.43],[-0.79,7.59],[-0.71,7.53],[-0.69,7.40],[-0.73,7.28],[-0.71,7.30],[-0.55,7.64],[-0.62,7.67],[-0.40,7.30],[-0.60,7.17],[-0.49,7.04],[-0.30,7.13],[-0.33,7.07],[-0.26,7.08],[-0.14,7.01],[-0.09,7.04],[-0.06,7.17],[0.26,7.17],[0.33,7.08],[0.40,7.16],[0.43,7.38],[0.35,7.64],[0.66,7.61],[0.66,7.49],[0.72,7.23],[0.79,7.24],[0.98,7.56],[1.09,7.54],[1.04,7.46],[1.14,7.46],[1.31,7.49],[0.92,7.05],[-1.27,6.94],[-1.14,6.77],[-1.22,6.68],[-1.09,6.67],[-1.04,6.83],[-0.73,6.88],[-0.72,6.95],[-0.81,6.58],[-0.86,6.41],[-0.68,6.42],[-0.68,6.38],[-0.40,6.64],[-0.40,6.58],[-0.36,6.52],[-0.30,6.51],[-0.25,6.62],[-0.45,6.28],[-0.30,6.32],[-0.12,6.40],[0.23,6.98],[0.23,6.88],[0.37,6.69],[0.42,6.68],[0.53,6.77],[0.22,6.67],[0.26,6.60],[0.29,6.48],[0.40,6.45],[0.52,6.47],[0.55,6.58],[0.52,6.37],[0.58,6.35],[0.78,6.37],[0.37,6.26],[0.46,6.28],[0.75,6.22],[0.71,6.12],[0.73,6.04],[0.86,6.15],[0.91,6.25],[0.98,6.80],[1.07,6.19],[1.12,6.12],[1.11,6.31],[1.17,6.85],[0.86,5.96],[-0.58,5.86],[-0.25,5.79],[-1.14,5.88],[-1.30,5.85],[0.84,5.72],[1.04,5.73],[1.24,5.60],[1.28,5.62],[0.22,5.50],[-1.30,6.45],[-1.33,6.60],[-1.15,6.54],
[1.54,7.66],[1.77,7.64],[1.97,7.66],[1.61,7.56],[1.69,7.54],[1.78,7.46],[1.87,7.49],[2.05,7.38],[1.39,7.40],[1.45,7.38],[2.36,7.35],[2.39,7.35],[1.93,7.26],[1.91,7.21],[2.26,7.25],[2.52,7.46],[2.94,7.44],[1.36,6.84],[1.71,6.82],[1.61,6.69],[1.65,6.64],[2.33,6.71],[3.65,6.60]
]

const font = 'DejaVu Sans'
const minus = v => (v < 0 ? '\u2212' + Math.abs(v) : String(v))

let chart = echarts.init(document.getElementById('main'), null, { renderer: 'canvas' })

let series = []
// dashed reference lines through the Sun
series.push({
    type: 'line',
    data: [[sunX, yTicks[0]], [sunX, yTicks[yTicks.length - 1]]],
    symbol: 'none',
    silent: true,
    z: 1,
    lineStyle: { color: '#b0b0b0', width: 2.5, type: [19, 9] }
})
series.push({
    type: 'line',
    data: [[xTicks[0], sunY], [xTicks[xTicks.length - 1], sunY]],
    symbol: 'none',
    silent: true,
    z: 1,
    lineStyle: { color: '#b0b0b0', width: 2.5, type: [19, 9] }
})
armLines.forEach((arm, i) => {
    series.push({
        name: armNames[i],
        type: 'line',
        data: arm,
        symbol: 'none',
        smooth: 0.3,
        z: 2,
        lineStyle: { color: armColors[i], width: 4 }
    })
})
series.push({
    type: 'scatter',
    data: grayPoints,
    symbolSize: 6,
    z: 3,
    itemStyle: { color: '#808080', opacity: 1 }
})
series.push({
    type: 'scatter',
    data: redPoints,
    symbolSize: 8,
    z: 4,
    itemStyle: { color: '#e41a1c', opacity: 1 }
})
// text labels for the arms and the panel letter
series.push({
    type: 'scatter',
    symbolSize: 0,
    silent: true,
    z: 5,
    itemStyle: { opacity: 1 },
    data: armNames.map((n, i) => ({
        value: [labelX[i], labelY[i]],
        label: { formatter: n, color: labelColors[i] }
    })).concat([{
        value: [3.85, 12.60],
        label: { formatter: 'a.', color: '#000', position: 'left' }
    }]),
    label: {
        show: true,
        position: 'right',
        distance: 0,
        fontFamily: font,
        fontSize: 36
    }
})

chart.setOption({
    animation: false,
    backgroundColor: '#fff',
    grid: {
        left: 135,
        right: 12,
        top: 23,
        bottom: 114,
        show: true,
        borderColor: '#000',
        borderWidth: 2
    },
    xAxis: {
        type: 'value',
        min: -4,
        max: 4,
        interval: 1,
        name: 'X (kpc)',
        nameLocation: 'middle',
        nameGap: 72,
        nameTextStyle: { color: '#000', fontFamily: font, fontSize: 36 },
        splitLine: { show: false },
        axisLine: { show: true, onZero: false, lineStyle: { color: '#000', width: 2 } },
        axisTick: { show: true, inside: false, length: 11, lineStyle: { color: '#000', width: 2 } },
        axisLabel: { color: '#000', fontFamily: font, fontSize: 36, margin: 22, formatter: minus, showMinLabel: true, showMaxLabel: true }
    },
    yAxis: {
        type: 'value',
        min: 5,
        max: 13,
        interval: 1,
        name: 'Y (kpc)',
        nameLocation: 'middle',
        nameGap: 90,
        nameTextStyle: { color: '#000', fontFamily: font, fontSize: 36 },
        splitLine: { show: false },
        axisLine: { show: true, onZero: false, lineStyle: { color: '#000', width: 2 } },
        axisTick: { show: true, inside: false, length: 11, lineStyle: { color: '#000', width: 2 } },
        axisLabel: { color: '#000', fontFamily: font, fontSize: 36, margin: 26, showMinLabel: true, showMaxLabel: true }
    },
    series: series
})
</script>
</body>
</html>
